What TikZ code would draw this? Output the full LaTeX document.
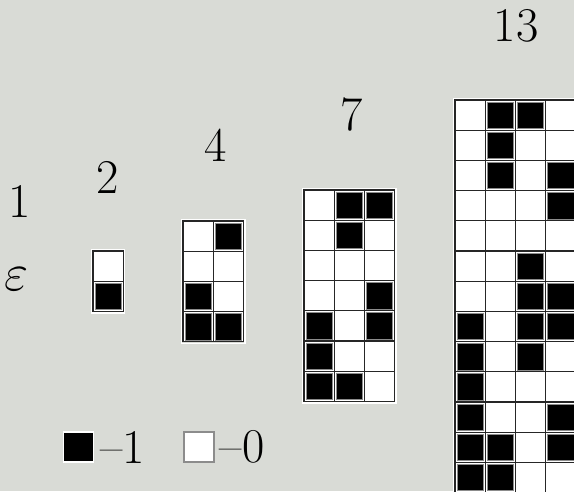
\documentclass[tikz,border=0pt]{standalone}
\usetikzlibrary{positioning}
\definecolor{paper}{RGB}{217,219,214}
\begin{document}
\begin{tikzpicture}[x=0.016667cm,y=-0.016667cm,
  font=\fontsize{23}{27}\selectfont,
  cell/.style={draw=black!85,fill=white,line width=.5pt,minimum size=.503cm,inner sep=0pt},
  onecell/.style={draw=black!45,fill=black,line width=.3pt,minimum size=.44cm,inner sep=0pt},
  frame/.style={draw=white,line width=.6pt},
  lbl/.style={anchor=base,inner sep=0pt}]
\fill[paper] (0,0) rectangle (574,491);
\useasboundingbox (0,0) rectangle (574,491);
\clip (0,0) rectangle (574,491);
% sizes
\node[lbl] (n1) at (20,217) {1};
\node[lbl] (neps) at (17,290) {\(\varepsilon\)};
\node[lbl] (n2) at (108,193) {2};
\node[lbl] (n4) at (216,161) {4};
\node[lbl] (n7) at (352,130) {7};
\node[lbl] (n13) at (516,41) {13};
% grid of 2
\draw[frame] (91.5,249.5) rectangle (124.7,312.9);
\foreach \row [count=\r] in {{0},{1}}
  \foreach \b [count=\c] in \row {
    \node[cell] (a-\r-\c) at (93+30.2*\c-15.1,251+30.2*\r-15.1) {};
    \ifnum\b=1 \node[onecell] at (a-\r-\c) {};\fi}
% grid of 4
\draw[frame] (181.5,219.5) rectangle (244.9,343.3);
\foreach \row [count=\r] in {{0,1},{0,0},{1,0},{1,1}}
  \foreach \b [count=\c] in \row {
    \node[cell] (b-\r-\c) at (183+30.2*\c-15.1,221+30.2*\r-15.1) {};
    \ifnum\b=1 \node[onecell] at (b-\r-\c) {};\fi}
% grid of 7
\draw[frame] (302.5,188.5) rectangle (396.1,402.9);
\foreach \row [count=\r] in {{0,1,1},{0,1,0},{0,0,0},{0,0,1},{1,0,1},{1,0,0},{1,1,0}}
  \foreach \b [count=\c] in \row {
    \node[cell] (c-\r-\c) at (304+30.2*\c-15.1,190+30.2*\r-15.1) {};
    \ifnum\b=1 \node[onecell] at (c-\r-\c) {};\fi}
% grid of 13
\draw[frame] (453.5,98.5) rectangle (577.3,494.1);
\foreach \row [count=\r] in {{0,1,1,0},{0,1,0,0},{0,1,0,1},{0,0,0,1},{0,0,0,0},{0,0,1,0},{0,0,1,1},
    {1,0,1,1},{1,0,1,0},{1,0,0,0},{1,0,0,1},{1,1,0,1},{1,1,0,0}}
  \foreach \b [count=\c] in \row {
    \node[cell] (d-\r-\c) at (455+30.2*\c-15.1,100+30.2*\r-15.1) {};
    \ifnum\b=1 \node[onecell] at (d-\r-\c) {};\fi}
% legend
\node[draw=white,fill=black,line width=.6pt,minimum size=.5cm,inner sep=0pt] (keyone) at (78.5,447) {};
\node[right=0.1cm of keyone,inner sep=0pt] (txtone) {--1};
\node[draw=black!45,fill=white,line width=.5pt,minimum size=.5cm,inner sep=0pt] (keyzero) at (199,447) {};
\node[right=0.08cm of keyzero,inner sep=0pt] (txtzero) {--0};
\end{tikzpicture}
\end{document}
